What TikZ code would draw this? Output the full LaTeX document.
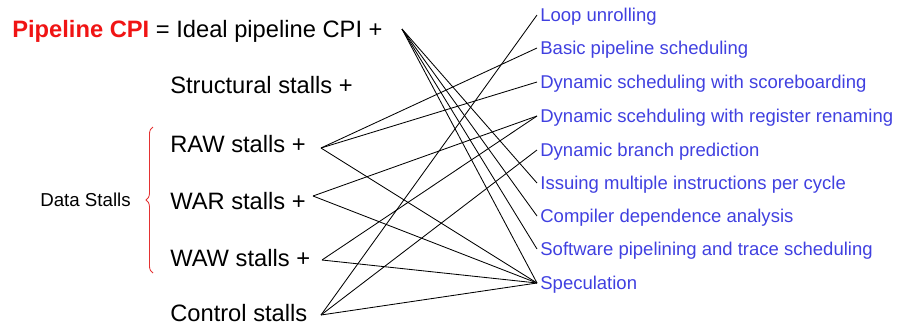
\documentclass[tikz,border=0pt]{standalone}
\usepackage{fontspec}
\setmainfont{Liberation Sans}
\usetikzlibrary{decorations.pathreplacing}
\definecolor{cpired}{RGB}{240,20,20}
\definecolor{bracered}{RGB}{228,50,50}
\definecolor{techblue}{RGB}{64,64,224}
\begin{document}
\begin{tikzpicture}[x=0.025cm,y=-0.025cm,
    term/.style={anchor=base west,inner sep=0pt,font=\fontsize{16.86}{20}\selectfont},
    tech/.style={anchor=west,inner xsep=2.2pt,inner ysep=0pt,text height=9.4pt,text depth=0pt,
        text=techblue,font=\fontsize{13.16}{16}\selectfont},
    link/.style={line width=0.6pt}]
            \useasboundingbox (0,0) rectangle (897,325);
            % CPI terms
            \node[term] (ideal) at (12,37) {{\color{cpired}\bfseries Pipeline CPI} = Ideal pipeline CPI +};
            \node[term] (struct) at (170,93) {Structural stalls +};
            \node[term] (raw) at (170,152) {RAW stalls +};
            \node[term] (war) at (170,209) {WAR stalls +};
            \node[term] (waw) at (170,266) {WAW stalls +};
            \node[term] (ctrl) at (170,321.5) {Control stalls};
            \node[anchor=base west,inner sep=0pt,font=\fontsize{13.3}{16}\selectfont] (data) at (40,206) {Data Stalls};
            \draw[bracered,line width=0.6pt,decorate,decoration={brace,amplitude=5pt}] (153,273)--(153,127);
            \coordinate (ideal-pt) at (402,29);
            \coordinate (raw-pt) at (321,148);
            \coordinate (war-pt) at (313,196);
            \coordinate (waw-pt) at (322,260);
            \coordinate (ctrl-pt) at (321,315);
            % techniques
            \node[tech] (unroll) at (537,15) {Loop unrolling};
            \node[tech] (sched) at (537,48) {Basic pipeline scheduling};
            \node[tech] (score) at (537,82) {Dynamic scheduling with scoreboarding};
            \node[tech] (rename) at (537,116) {Dynamic scehduling with register renaming};
            \node[tech] (bpred) at (537,150) {Dynamic branch prediction};
            \node[tech] (issue) at (537,183) {Issuing multiple instructions per cycle};
            \node[tech] (depend) at (537,216) {Compiler dependence analysis};
            \node[tech] (swpipe) at (537,249) {Software pipelining and trace scheduling};
            \node[tech] (spec) at (537,283) {Speculation};
            % links
            \draw[link] (ideal-pt)--(issue.west);
            \draw[link] (ideal-pt)--(depend.west);
            \draw[link] (ideal-pt)--(swpipe.west);
            \draw[link] (ideal-pt)--(spec.west);
            \draw[link] (raw-pt)--(sched.west);
            \draw[link] (raw-pt)--(score.west);
            \draw[link] (raw-pt)--(spec.west);
            \draw[link] (war-pt)--(rename.west);
            \draw[link] (war-pt)--(spec.west);
            \draw[link] (waw-pt)--(rename.west);
            \draw[link] (waw-pt)--(spec.west);
            \draw[link] (ctrl-pt)--(unroll.west);
            \draw[link] (ctrl-pt)--(bpred.west);
            \draw[link] (ctrl-pt)--(spec.west);
        \end{tikzpicture}
\end{document}
